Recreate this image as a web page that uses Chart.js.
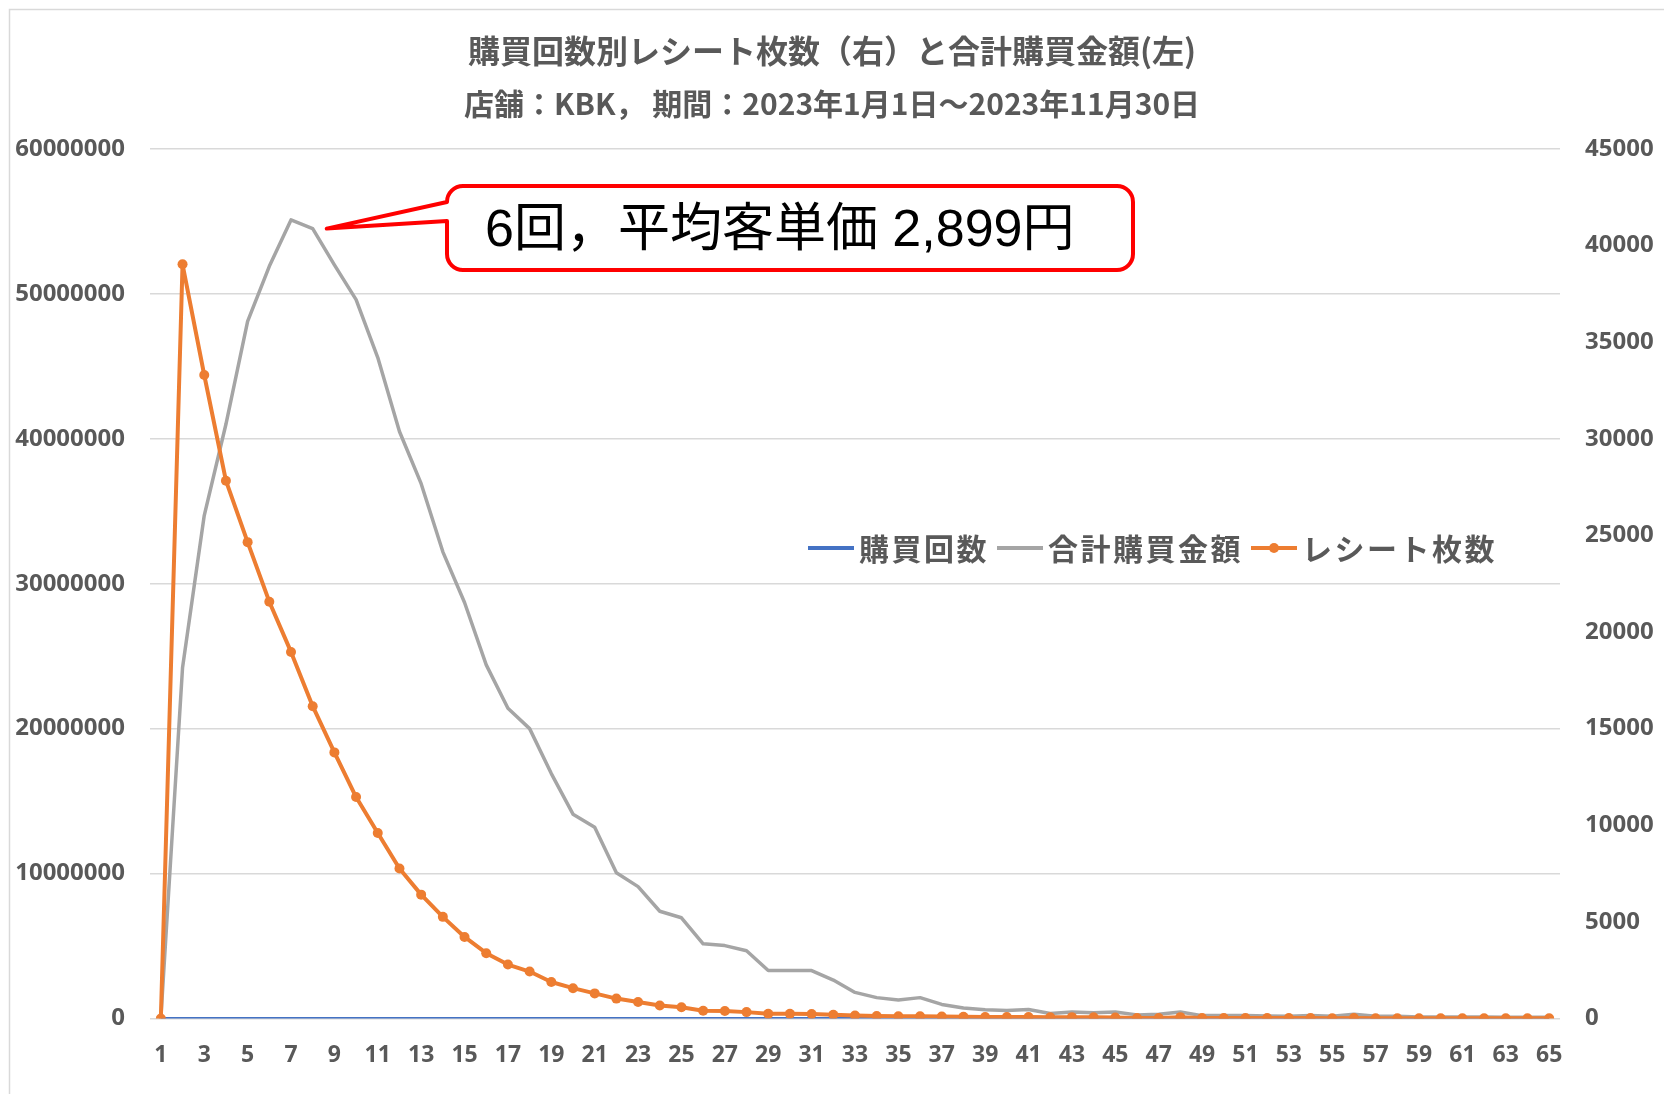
<!DOCTYPE html>
<html lang="ja">
<head>
<meta charset="utf-8">
<title>購買回数別レシート枚数と合計購買金額</title>
<script src="https://cdn.jsdelivr.net/npm/chart.js@4.4.1/dist/chart.umd.min.js"></script>
<style>
  html, body { margin: 0; padding: 0; background: #ffffff; }
  #wrap { width: 1664px; height: 1094px; }
</style>
</head>
<body>
<div id="wrap"><canvas id="lineChart" width="1664" height="1094"></canvas></div>
<script>
// 購買回数 (カテゴリ)
const categorias = [1, 2, 3, 4, 5, 6, 7, 8, 9, 10, 11, 12, 13, 14, 15, 16, 17, 18, 19, 20,
  21, 22, 23, 24, 25, 26, 27, 28, 29, 30, 31, 32, 33, 34, 35, 36, 37, 38, 39, 40,
  41, 42, 43, 44, 45, 46, 47, 48, 49, 50, 51, 52, 53, 54, 55, 56, 57, 58, 59, 60,
  61, 62, 63, 64, 65];

// 購買回数 (左軸)
const valoresKaisu = [0, 1, 2, 3, 4, 5, 6, 7, 8, 9, 10, 11, 12, 13, 14, 15, 16, 17, 18, 19,
  20, 21, 22, 23, 24, 25, 26, 27, 28, 29, 30, 31, 32, 33, 34, 35, 36, 37, 38, 39,
  40, 41, 42, 43, 44, 45, 46, 47, 48, 49, 50, 51, 52, 53, 54, 55, 56, 57, 58, 59,
  60, 61, 62, 63, 64];

// 合計購買金額 (左軸)
const valoresKingaku = [0, 24200000, 34700000, 41000000, 48100000, 51900000, 55100000, 54500000, 52000000, 49600000,
  45600000, 40500000, 36900000, 32200000, 28700000, 24400000, 21400000, 20000000, 16900000, 14100000,
  13200000, 10050000, 9100000, 7400000, 6950000, 5150000, 5030000, 4670000, 3310000, 3310000,
  3310000, 2650000, 1800000, 1440000, 1280000, 1440000, 970000, 720000, 610000, 550000,
  620000, 350000, 450000, 400000, 450000, 250000, 300000, 450000, 200000, 200000,
  200000, 180000, 150000, 200000, 150000, 300000, 150000, 150000, 100000, 100000,
  100000, 100000, 80000, 80000, 80000];

// レシート枚数 (右軸)
const valoresReceipt = [0, 39030, 33300, 27830, 24650, 21570, 18970, 16160, 13770, 11460,
  9600, 7760, 6410, 5260, 4220, 3380, 2790, 2430, 1890, 1570,
  1300, 1030, 850, 670, 580, 400, 390, 330, 240, 240,
  230, 190, 150, 130, 120, 110, 100, 90, 80, 80,
  75, 60, 70, 60, 55, 30, 30, 70, 25, 25,
  25, 20, 20, 20, 15, 20, 15, 15, 15, 10,
  10, 10, 10, 10, 10];

// 軸の範囲
const eixoEsq = { min: 0, max: 60000000, step: 10000000 };
const eixoDir = { min: 0, max: 45000, step: 5000 };

// 吹き出しの文字と対象カテゴリ
const textoBalao = '6回，平均客単価 2,899円';
const categoriaBalao = 8;

const corTexto = '#595959';
const fonteNum = '"Noto Sans", "Noto Sans CJK JP", sans-serif';
const fonteJp = '"Noto Sans CJK JP", "Noto Sans", sans-serif';

// 背景と外枠
const fundoPlugin = {
    id: 'fundo',
    beforeDraw(chart) {
        const ctx = chart.ctx;
        ctx.save();
        ctx.fillStyle = '#ffffff';
        ctx.fillRect(0, 0, chart.width, chart.height);
        ctx.strokeStyle = '#D9D9D9';
        ctx.lineWidth = 1.5;
        ctx.strokeRect(9.5, 9.5, chart.width + 20, chart.height + 20);
        ctx.restore();
    }
};

// 凡例 (プロット内)
const legendaPlugin = {
    id: 'legenda',
    afterDatasetsDraw(chart) {
        const ctx = chart.ctx;
        let x = 808;
        const y = 548;
        ctx.save();
        ctx.font = 'bold 30px ' + fonteJp;
        ctx.letterSpacing = '2.5px';
        ctx.textBaseline = 'middle';
        ctx.textAlign = 'left';
        chart.data.datasets.forEach(function (ds) {
            ctx.strokeStyle = ds.borderColor;
            ctx.lineWidth = 4;
            ctx.beginPath();
            ctx.moveTo(x, y);
            ctx.lineTo(x + 46, y);
            ctx.stroke();
            if (ds.pointRadius > 0) {
                ctx.fillStyle = ds.borderColor;
                ctx.beginPath();
                ctx.arc(x + 23, y, 5, 0, Math.PI * 2);
                ctx.fill();
            }
            ctx.fillStyle = corTexto;
            ctx.fillText(ds.label, x + 51, y + 1);
            x += 51 + ctx.measureText(ds.label).width + 8;
        });
        ctx.restore();
    }
};

// 吹き出し
const balaoPlugin = {
    id: 'balao',
    afterDraw(chart) {
        const ctx = chart.ctx;
        const sx = chart.scales.x;
        const sy = chart.scales.y;
        const idx = categoriaBalao - 1;
        const tipX = sx.getPixelForValue(idx) + 14;
        const tipY = sy.getPixelForValue(valoresKingaku[idx]);
        const L = 447, T = 186, R = 1133, B = 270, r = 16;
        ctx.save();
        ctx.beginPath();
        ctx.moveTo(L + r, T);
        ctx.lineTo(R - r, T);
        ctx.arcTo(R, T, R, T + r, r);
        ctx.lineTo(R, B - r);
        ctx.arcTo(R, B, R - r, B, r);
        ctx.lineTo(L + r, B);
        ctx.arcTo(L, B, L, B - r, r);
        ctx.lineTo(L, T + 35);
        ctx.lineTo(tipX, tipY);
        ctx.lineTo(L, T + 16);
        ctx.arcTo(L, T, L + r, T, r);
        ctx.closePath();
        ctx.fillStyle = '#ffffff';
        ctx.fill();
        ctx.strokeStyle = '#FF0000';
        ctx.lineWidth = 4;
        ctx.lineJoin = 'round';
        ctx.stroke();
        ctx.fillStyle = '#000000';
        ctx.font = '52px "Liberation Sans", "Noto Sans CJK JP", sans-serif';
        ctx.textBaseline = 'middle';
        ctx.textAlign = 'left';
        ctx.fillText(textoBalao, L + 38, 232);
        ctx.restore();
    }
};

// 桁区切りなしで表示
function semSeparador(valor) {
    return String(valor);
}

var ctx1 = document.getElementById('lineChart').getContext('2d');
var myLineChart = new Chart(ctx1, {
    type: 'line',
    data: {
        labels: categorias,
        datasets: [{
            label: '購買回数',
            data: valoresKaisu,
            borderColor: '#4472C4',
            backgroundColor: '#4472C4',
            borderWidth: 3,
            pointRadius: 0,
            yAxisID: 'y',
            order: 2
        }, {
            label: '合計購買金額',
            data: valoresKingaku,
            borderColor: '#A5A5A5',
            backgroundColor: '#A5A5A5',
            borderWidth: 3.5,
            borderJoinStyle: 'round',
            pointRadius: 0,
            yAxisID: 'y',
            order: 1
        }, {
            label: 'レシート枚数',
            data: valoresReceipt,
            borderColor: '#ED7D31',
            backgroundColor: '#ED7D31',
            borderWidth: 4,
            borderJoinStyle: 'round',
            pointRadius: 5,
            pointBorderWidth: 0,
            pointBackgroundColor: '#ED7D31',
            yAxisID: 'y1',
            order: 0
        }]
    },
    options: {
        responsive: false,
        animation: false,
        devicePixelRatio: 1,
        layout: { padding: 0 },
        plugins: {
            legend: { display: false },
            tooltip: { enabled: false },
            title: {
                display: true,
                text: '購買回数別レシート枚数（右）と合計購買金額(左)',
                color: corTexto,
                font: { family: fonteJp, size: 32, weight: 'bold', lineHeight: 1.2 },
                padding: { top: 31.8, bottom: 0 }
            },
            subtitle: {
                display: true,
                text: '店舗：KBK， 期間：2023年1月1日～2023年11月30日',
                color: corTexto,
                font: { family: fonteJp, size: 30, weight: 'bold', lineHeight: 1.2 },
                padding: { top: 15.8, bottom: 26.9 }
            }
        },
        scales: {
            x: {
                offset: true,
                grid: { display: false },
                border: { display: false },
                ticks: {
                    autoSkip: false,
                    maxRotation: 0,
                    padding: 15,
                    color: corTexto,
                    font: { family: fonteNum, size: 23, weight: 'bold' },
                    callback: function (val, idx) {
                        return idx % 2 === 0 ? categorias[idx] : '';
                    }
                },
                afterFit: function (scale) { scale.height = 75.5; }
            },
            y: {
                position: 'left',
                min: eixoEsq.min,
                max: eixoEsq.max,
                grid: { color: '#D9D9D9', lineWidth: 1.5, drawTicks: false },
                border: { display: false },
                ticks: {
                    stepSize: eixoEsq.step,
                    padding: 25,
                    color: corTexto,
                    font: { family: fonteNum, size: 24, weight: 'bold' },
                    callback: semSeparador
                },
                afterFit: function (scale) { scale.width = 150; }
            },
            y1: {
                position: 'right',
                min: eixoDir.min,
                max: eixoDir.max,
                grid: { display: false, drawTicks: false },
                border: { display: false },
                ticks: {
                    stepSize: eixoDir.step,
                    padding: 25,
                    color: corTexto,
                    font: { family: fonteNum, size: 24, weight: 'bold' },
                    callback: semSeparador
                },
                afterFit: function (scale) { scale.width = 104; }
            }
        }
    },
    plugins: [fundoPlugin, legendaPlugin, balaoPlugin]
});
</script>
</body>
</html>
